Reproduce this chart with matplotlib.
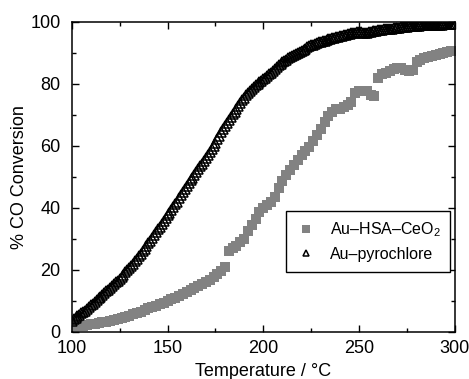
import numpy as np
import matplotlib
matplotlib.use("Agg")
import matplotlib.pyplot as plt

plt.rcParams['font.family'] = ['Liberation Sans', 'DejaVu Sans']
plt.rcParams['mathtext.fontset'] = 'custom'
plt.rcParams['mathtext.rm'] = 'Liberation Sans'
plt.rcParams['mathtext.it'] = 'Liberation Sans:italic'

# Temperature sampling (°C)
temperature_even = np.arange(100, 301, 2)
temperature_odd = np.arange(101, 300, 2)

# Au-pyrochlore, readings at even temperatures
au_pyrochlore_even = [
    3.5, 4.5, 5.5, 6.3, 7.3, 8.5, 9.6, 10.8, 11.9, 13.0,
    14.1, 15.3, 16.5, 17.8, 19.1, 20.5, 22.0, 23.6, 25.2, 26.8,
    28.5, 30.3, 32.1, 33.9, 35.7, 37.5, 39.3, 41.1, 43.0, 45.0,
    47.0, 48.8, 50.6, 52.4, 54.2, 56.0, 58.0, 60.0, 62.1, 64.3,
    66.4, 68.2, 70.1, 71.9, 73.7, 75.4, 76.9, 78.3, 79.5, 80.5,
    81.5, 82.5, 83.6, 84.8, 86.0, 87.0, 87.8, 88.6, 89.3, 89.9,
    90.5, 91.3, 92.1, 92.6, 93.1, 93.5, 93.9, 94.3, 94.7, 95.0,
    95.3, 95.6, 95.9, 96.2, 96.5, 96.8, 96.3, 96.5, 96.8, 97.0,
    97.2, 97.4, 97.6, 97.8, 97.9, 98.0, 98.2, 98.3, 98.5, 98.6,
    98.7, 98.8, 98.9, 98.9, 99.0, 99.1, 99.1, 99.2, 99.2, 99.3,
    99.3,
]

# Au-pyrochlore, readings at odd temperatures
au_pyrochlore_odd = [
    4.0, 5.0, 5.9, 6.8, 7.9, 9.0, 10.2, 11.3, 12.4, 13.5,
    14.7, 15.9, 17.1, 18.4, 19.8, 21.2, 22.8, 24.4, 26.0, 27.6,
    29.4, 31.2, 33.0, 34.8, 36.6, 38.4, 40.2, 42.0, 44.0, 46.0,
    47.9, 49.7, 51.5, 53.3, 55.1, 57.0, 59.0, 61.0, 63.2, 65.4,
    67.3, 69.2, 71.0, 72.8, 74.6, 76.2, 77.6, 78.9, 80.0, 81.0,
    82.0, 83.0, 84.2, 85.4, 86.5, 87.4, 88.2, 89.0, 89.6, 90.2,
    90.9, 91.7, 92.4, 92.9, 93.3, 93.7, 94.1, 94.5, 94.9, 95.2,
    95.5, 95.8, 96.1, 96.4, 96.7, 96.6, 96.4, 96.7, 96.9, 97.1,
    97.3, 97.5, 97.7, 97.8, 98.0, 98.1, 98.3, 98.4, 98.5, 98.6,
    98.7, 98.8, 98.9, 99.0, 99.0, 99.1, 99.1, 99.2, 99.2, 99.3,
]

# Au-HSA-CeO2, readings at even temperatures
au_hsa_ceo2 = [
    1.8, 1.8, 1.9, 2.0, 2.2, 2.4, 2.6, 2.8, 3.0, 3.2,
    3.4, 3.7, 4.0, 4.4, 4.8, 5.2, 5.6, 6.0, 6.5, 7.0,
    7.5, 7.9, 8.3, 8.8, 9.3, 9.8, 10.4, 10.9, 11.5, 12.1,
    12.8, 13.4, 14.0, 14.7, 15.3, 16.0, 16.8, 17.6, 18.5, 19.6,
    21.0, 26.0, 27.0, 27.8, 28.8, 30.0, 32.5, 34.5, 36.5, 38.5,
    40.0, 40.8, 41.8, 43.5, 46.5, 48.5, 50.5, 52.2, 53.8, 55.3,
    57.0, 58.2, 59.6, 61.5, 63.5, 65.5, 67.5, 69.5, 71.0, 71.7,
    72.0, 72.5, 73.2, 74.0, 77.0, 77.8, 77.8, 77.5, 76.5, 76.0,
    82.0, 83.0, 83.5, 84.2, 84.8, 85.2, 85.2, 84.3, 84.0, 84.5,
    87.0, 87.6, 88.2, 88.6, 89.0, 89.4, 89.7, 90.0, 90.2, 90.4,
    90.6,
]

labels = ["Au\u2013HSA\u2013CeO$_2$", "Au\u2013pyrochlore"]

fig = plt.figure(figsize=(4.69, 3.79), dpi=100)
ax = fig.add_axes([0.1529, 0.1248, 0.8171, 0.8179])

ax.plot(temperature_even, au_hsa_ceo2, linestyle='none', marker='s', markersize=7.5,
        color='#828282', markeredgewidth=0, label=labels[0])

tri_style = dict(linestyle='none', marker='^', markersize=6.5,
                 markerfacecolor='none', markeredgecolor='black', markeredgewidth=1.1)
ax.plot(temperature_even, au_pyrochlore_even, label=labels[1], **tri_style)
ax.plot(temperature_odd, au_pyrochlore_odd, **tri_style)

ax.set_xlim(100, 300)
ax.set_ylim(0, 100)
ax.set_xticks([100, 150, 200, 250, 300])
ax.set_xticks([125, 175, 225, 275], minor=True)
ax.set_yticks([0, 20, 40, 60, 80, 100])
ax.set_yticks([10, 30, 50, 70, 90], minor=True)
ax.tick_params(which='both', direction='in', top=True, right=True, labelsize=13, width=1)
ax.tick_params(which='major', length=5)
ax.tick_params(which='minor', length=3)
ax.tick_params(axis='x', which='major', pad=6)
ax.tick_params(axis='y', which='major', pad=8)
for s in ax.spines.values():
    s.set_linewidth(1.1)

ax.set_xlabel("Temperature / \u00b0C", fontsize=13, labelpad=4)
ax.set_ylabel("% CO Conversion", fontsize=13, labelpad=2)

leg = ax.legend(loc='center', bbox_to_anchor=(0.774, 0.292), fancybox=False,
                edgecolor='black', framealpha=1, fontsize=11.5, handlelength=1.2,
                handletextpad=0.9, borderpad=0.6, labelspacing=0.5, markerscale=0.7)
leg.get_frame().set_linewidth(1.0)

fig.savefig("out.png", dpi=100)
